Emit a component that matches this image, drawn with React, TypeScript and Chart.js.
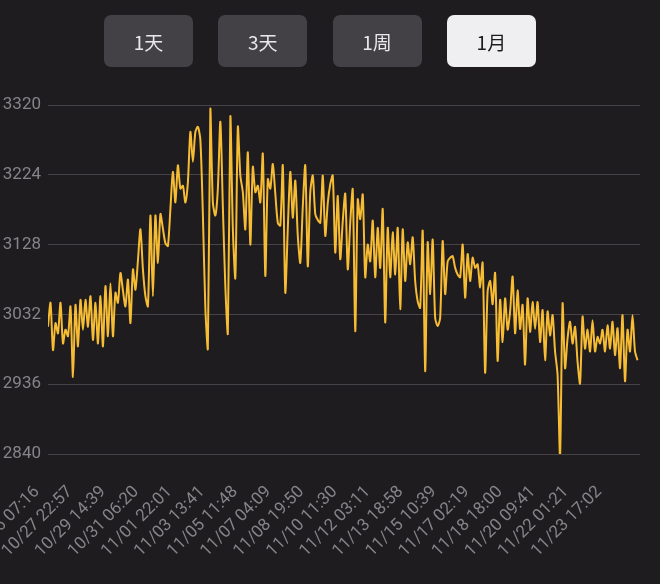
import React, { useEffect, useRef } from "react";
import { Chart, registerables } from "chart.js";

Chart.register(...registerables);

const RANGE_BUTTONS = ["1天", "3天", "1周", "1月"];
const ACTIVE_RANGE = "1月";

const Y_MIN = 2840;
const Y_MAX = 3320;
const Y_STEP = 96;

const TICK_LABELS = [
  "10/26 07:16", "10/27 22:57", "10/29 14:39", "10/31 06:20", "11/01 22:01",
  "11/03 13:41", "11/05 11:48", "11/07 04:09", "11/08 19:50", "11/10 11:30",
  "11/12 03:11", "11/13 18:58", "11/15 10:39", "11/17 02:19", "11/18 18:00",
  "11/20 09:41", "11/22 01:21", "11/23 17:02",
];

// sample index at which each tick label sits
const TICK_INDEX = [
  -4.4, 8.8, 22.1, 35.3, 48.6, 61.8, 75.0, 88.3, 101.5, 114.8,
  128.0, 141.2, 154.5, 167.7, 181.0, 194.2, 207.4, 220.7,
];

const PRICES = [
  3015, 3048, 2983, 3020, 3006, 3048, 2992, 3011, 3002, 3043,
  2946, 3045, 2988, 3052, 3011, 3052, 3015, 3057, 2997, 3048,
  2992, 3057, 2988, 3071, 3002, 3075, 3002, 3062, 3048, 3089,
  3065, 3043, 3080, 3020, 3094, 3066, 3106, 3149, 3094, 3057,
  3043, 3168, 3057, 3168, 3103, 3170, 3150, 3130, 3126, 3177,
  3228, 3186, 3237, 3205, 3209, 3186, 3214, 3283, 3242, 3283,
  3290, 3272, 3170, 3040, 2985, 3315, 3186, 3168, 3205, 3297,
  3180, 3070, 3006, 3304, 3150, 3082, 3290, 3223, 3200, 3149,
  3255, 3128, 3235, 3200, 3209, 3186, 3253, 3085, 3218, 3205,
  3239, 3198, 3158, 3154, 3237, 3062, 3150, 3228, 3165, 3216,
  3140, 3103, 3180, 3237, 3098, 3200, 3223, 3170, 3162, 3158,
  3223, 3140, 3185, 3211, 3223, 3117, 3195, 3108, 3160, 3198,
  3094, 3158, 3204, 3009, 3190, 3163, 3197, 3083, 3128, 3105,
  3161, 3083, 3151, 3096, 3177, 3021, 3151, 3083, 3145, 3087,
  3151, 3039, 3149, 3078, 3131, 3101, 3138, 3078, 3050, 3041,
  3147, 2954, 3131, 3060, 3135, 3027, 3016, 3027, 3133, 3060,
  3105, 3110, 3112, 3096, 3087, 3083, 3128, 3055, 3115, 3078,
  3110, 3096, 3101, 3069, 3103, 2952, 3064, 3078, 3046, 3089,
  2968, 3052, 2994, 3054, 3011, 3036, 3084, 3006, 3065, 3012,
  3045, 2963, 3054, 3008, 3049, 3012, 3049, 2994, 3038, 2969,
  3036, 3003, 3031, 2981, 2949, 2837, 3047, 2958, 2999, 3022,
  2992, 3015, 2967, 2937, 3029, 2985, 3011, 2981, 3024, 2981,
  3001, 2992, 3011, 2981, 3017, 2985, 3022, 2976, 3013, 2958,
  3031, 2940, 3011, 2981, 3031, 2981, 2969,
];

const BG = "#1e1c1f";
const LINE_COLOR = "#f6bc34";
const GRID_COLOR = "#454347";
const LABEL_COLOR = "#858488";

function PriceChart() {
  const canvasRef = useRef<HTMLCanvasElement | null>(null);

  useEffect(() => {
    if (!canvasRef.current) return;
    const chart = new Chart(canvasRef.current, {
      type: "line",
      data: {
        datasets: [
          {
            data: PRICES.map((v, i) => ({ x: i, y: v })),
            borderColor: LINE_COLOR,
            borderWidth: 2,
            pointRadius: 0,
            tension: 0.25,
            fill: false,
          },
        ],
      },
      options: {
        animation: false,
        responsive: false,
        maintainAspectRatio: false,
        parsing: false,
        layout: { padding: { top: 105, right: 20, bottom: 0, left: 0 } },
        plugins: {
          legend: { display: false },
          tooltip: { enabled: false },
        },
        scales: {
          x: {
            type: "linear",
            min: 0,
            max: PRICES.length,
            grid: { display: false, drawTicks: false },
            border: { display: false },
            afterBuildTicks: (scale: any) => {
              scale.ticks = TICK_INDEX.map((v) => ({ value: v }));
            },
            afterFit: (scale: any) => {
              scale.height = 130;
              scale.paddingLeft = 0;
              scale.paddingRight = 0;
            },
            ticks: {
              autoSkip: false,
              minRotation: 45,
              maxRotation: 45,
              padding: 28,
              color: LABEL_COLOR,
              font: { family: "Roboto", size: 17 },
              callback: (_v: any, i: number) => TICK_LABELS[i],
            },
          },
          y: {
            min: Y_MIN,
            max: Y_MAX,
            grid: { color: GRID_COLOR, lineWidth: 1, drawTicks: false },
            border: { display: false },
            afterFit: (scale: any) => {
              scale.width = 48;
            },
            ticks: {
              stepSize: Y_STEP,
              padding: 7,
              color: LABEL_COLOR,
              font: { family: "Roboto", size: 17 },
              callback: (v: any) => String(v),
            },
          },
        },
      },
    });
    return () => chart.destroy();
  }, []);

  return (
    <canvas
      ref={canvasRef}
      width={660}
      height={584}
      style={{ position: "absolute", left: 0, top: 0, width: 660, height: 584, display: "block" }}
    />
  );
}

export default function App() {
  useEffect(() => {
    document.body.style.margin = "0";
    document.body.style.background = BG;
  }, []);
  return (
    <div
      style={{
        position: "fixed",
        left: 0,
        top: 0,
        width: 660,
        height: 584,
        background: BG,
        overflow: "hidden",
      }}
    >
      <PriceChart />
      <div
        style={{
          position: "absolute",
          left: 104,
          top: 15,
          display: "flex",
          gap: 25.3,
        }}
      >
        {RANGE_BUTTONS.map((b) => {
          const active = b === ACTIVE_RANGE;
          return (
            <div
              key={b}
              style={{
                width: 89,
                height: 52,
                borderRadius: 7,
                background: active ? "#efeef1" : "#434145",
                color: active ? "#1b1b1d" : "#e8e8ea",
                display: "flex",
                alignItems: "center",
                justifyContent: "center",
                fontFamily: "'Noto Sans CJK SC', 'Noto Sans', sans-serif",
                fontSize: 19,
              }}
            >
              {b}
            </div>
          );
        })}
      </div>
    </div>
  );
}
